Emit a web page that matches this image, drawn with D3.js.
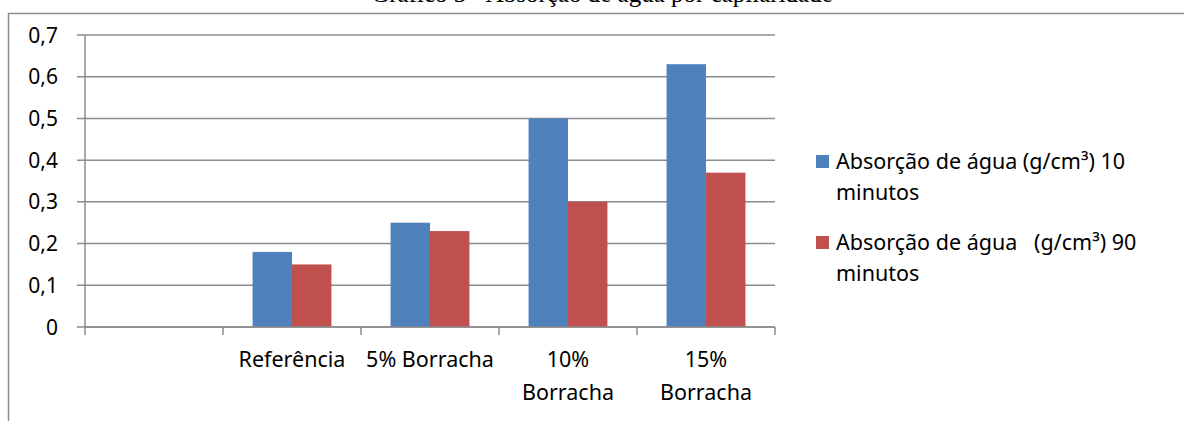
<!DOCTYPE html>
<html>
<head>
<meta charset="utf-8">
<script src="https://cdn.jsdelivr.net/npm/d3@7"></script>
<style>
  body { margin: 0; background: #fff; }
  svg { display: block; }
</style>
</head>
<body>
<script>
// data
let categories = ["", "Referência", "5% Borracha", "10% Borracha", "15% Borracha"];
let seriesNames = ["Absorção de água (g/cm³) 10 minutos", "Absorção de água   (g/cm³) 90 minutos"];
let abs10 = [null, 0.18, 0.25, 0.50, 0.63];
let abs90 = [null, 0.15, 0.23, 0.30, 0.37];
let yTicks = [0, 0.1, 0.2, 0.3, 0.4, 0.5, 0.6, 0.7];
let colors = ["#4F81BD", "#C0504D"];

function drawChart(){
  let width = 1184;
  let height = 421;
  let font = "'Noto Sans', sans-serif";

  let svg = d3.select("body").append("svg")
    .attr("width", width).attr("height", height);

  // title (cut off at the top edge, as in the original)
  svg.append("text")
    .attr("x", 602).attr("y", 1.5)
    .attr("text-anchor", "middle")
    .style("font-family", "'Liberation Serif', serif")
    .style("font-size", "25px")
    .text("Gráfico 3 - Absorção de água por capilaridade");

  // outer frame
  svg.append("path")
    .attr("d", "M8.5," + height + "V13.5H" + width)
    .attr("fill", "none").attr("stroke", "#8c8c8c").attr("stroke-width", 1.5);

  let margin = {top: 35, left: 85, right: 409, bottom: 94};
  let plotW = width - margin.left - margin.right;
  let plotH = height - margin.top - margin.bottom;

  let graph = svg.append("g")
    .attr("transform", "translate(" + margin.left + "," + margin.top + ")");

  let xScale = d3.scaleBand().domain(categories).range([0, plotW]);
  let yScale = d3.scaleLinear().domain([0, 0.7]).range([plotH, 0]);
  let bw = xScale.bandwidth();
  let barW = bw / 3.5;
  let subScale = d3.scaleBand().domain([0, 1]).range([barW * 0.75, barW * 2.75]);

  // gridlines + y ticks
  graph.selectAll(".grid").data(yTicks).enter().append("line")
    .attr("x1", -8).attr("x2", plotW)
    .attr("y1", d => yScale(d)).attr("y2", d => yScale(d))
    .attr("stroke", "#8c8c8c").attr("stroke-width", 1.5);

  graph.selectAll(".ylab").data(yTicks).enter().append("text")
    .attr("x", -27).attr("y", d => yScale(d))
    .attr("dy", "0.36em")
    .attr("text-anchor", "end")
    .style("font-family", font).style("font-size", "21px").style("fill", "#000")
    .text(d => d3.format(".1f")(d).replace(".", ",").replace(/^0,0$/, "0"));

  // y axis line
  graph.append("line")
    .attr("x1", 0).attr("x2", 0).attr("y1", 0).attr("y2", plotH)
    .attr("stroke", "#8c8c8c").attr("stroke-width", 1.5);

  // bars
  let series = [abs10, abs90];
  series.forEach(function(vals, si){
    graph.selectAll(".bar" + si)
      .data(categories.map((c, i) => ({cat: c, v: vals[i]})).filter(d => d.v != null))
      .enter().append("rect")
        .attr("x", d => xScale(d.cat) + subScale(si))
        .attr("y", d => yScale(d.v))
        .attr("width", subScale.bandwidth())
        .attr("height", d => plotH - yScale(d.v))
        .attr("fill", colors[si]);
  });

  // x axis line + ticks
  graph.append("line")
    .attr("x1", 0).attr("x2", plotW).attr("y1", plotH).attr("y2", plotH)
    .attr("stroke", "#8c8c8c").attr("stroke-width", 1.5);
  let tickPos = categories.map(c => xScale(c)).concat([plotW]);
  graph.selectAll(".xtick").data(tickPos).enter().append("line")
    .attr("x1", d => d).attr("x2", d => d)
    .attr("y1", plotH).attr("y2", plotH + 8)
    .attr("stroke", "#8c8c8c").attr("stroke-width", 1.5);

  // category labels, wrapped when too wide
  categories.forEach(function(c){
    if (!c) return;
    let t = graph.append("text")
      .attr("x", xScale(c) + bw / 2).attr("y", plotH + 40)
      .attr("text-anchor", "middle")
      .style("font-family", font).style("font-size", "21.5px").style("fill", "#000")
      .text(c);
    if (t.node().getComputedTextLength() > bw * 0.96 && c.indexOf(" ") > 0) {
      let words = c.split(" ");
      t.text(null);
      words.forEach(function(w, i){
        t.append("tspan")
          .attr("x", xScale(c) + bw / 2)
          .attr("dy", i == 0 ? 0 : 33)
          .text(w);
      });
    }
  });

  // legend
  let legend = svg.append("g").attr("transform", "translate(816,0)");
  seriesNames.forEach(function(name, i){
    let y0 = 155 + i * 81;
    legend.append("rect")
      .attr("x", 0).attr("y", y0).attr("width", 13).attr("height", 13)
      .attr("fill", colors[i]);
    let lastSpace = name.lastIndexOf(" ");
    let lines = [name.slice(0, lastSpace), name.slice(lastSpace + 1)];
    lines.forEach(function(l, j){
      legend.append("text")
        .attr("x", 20).attr("y", y0 + 14 + j * 31)
        .attr("xml:space", "preserve")
        .style("white-space", "pre")
        .style("font-family", font).style("font-size", "21.5px").style("fill", "#000")
        .text(l);
    });
  });
}

drawChart();
</script>
</body>
</html>
